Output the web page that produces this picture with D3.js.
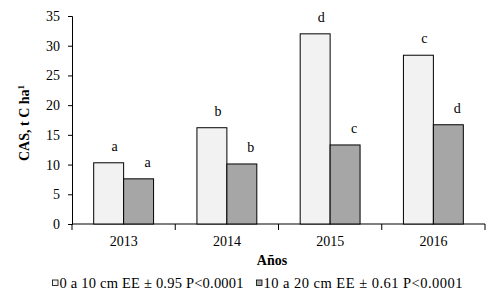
<!DOCTYPE html>
<html>
<head>
<meta charset="utf-8">
<script src="https://cdn.jsdelivr.net/npm/d3@7"></script>
<style>
	body { margin: 0; background: #fff; }
	text { font-family: "Liberation Serif", "Times New Roman", serif; fill: #000; }
</style>
</head>
<body>
<div id="chart"></div>
<script>
// data
var years = ["2013", "2014", "2015", "2016"];
var capa1 = [10.3, 16.2, 32.0, 28.4];   // 0 a 10 cm
var capa2 = [7.6, 10.1, 13.3, 16.7];    // 10 a 20 cm
var letras1 = ["a", "b", "d", "c"];
var letras2 = ["a", "b", "c", "d"];
var series = ["0 a 10 cm EE \u00b1 0.95 P<0.0001", "10 a 20 cm EE \u00b1 0.61 P<0.0001"];
var yTicks = [0, 5, 10, 15, 20, 25, 30, 35];

function init(){
	var w = 495;
	var h = 301;
	var left = 72, right = 485, top = 16, bottom = 224;
	var colors = ["#f2f2f2", "#a6a6a6"];

	var svg = d3.select("#chart")
				.append("svg")
				.attr("width", w)
				.attr("height", h);

	var x = d3.scaleBand()
				.domain(years)
				.range([left, right])
				.paddingInner(0.42)
				.paddingOuter(0.21);

	var xs = d3.scaleBand()
				.domain([0, 1])
				.range([0, x.bandwidth()]);

	var y = d3.scaleLinear()
				.domain([0, 35])
				.range([bottom, top]);

	//y axis
	var yAxis = svg.append("g")
				.attr("transform", "translate(" + left + ",0)")
				.call(d3.axisLeft(y).tickValues(yTicks).tickSize(4).tickPadding(8));
	yAxis.selectAll("text").style("font-size", "14px");

	//x axis: labels only, ticks drawn between the years
	var xAxis = svg.append("g")
				.attr("transform", "translate(0," + bottom + ")")
				.call(d3.axisBottom(x).tickSize(0).tickPadding(12));
	xAxis.selectAll("text").style("font-size", "14px");
	xAxis.select(".domain").attr("d", "M" + left + ",0H" + right);

	var bounds = years.map(function(d){ return x(d) - x.step() * x.paddingInner() / 2; });
	bounds.push(right);
	bounds[0] = left;
	svg.selectAll("line.sep")
		.data(bounds)
		.enter()
		.append("line")
		.attr("class", "sep")
		.attr("x1", function(d){ return d; })
		.attr("x2", function(d){ return d; })
		.attr("y1", bottom)
		.attr("y2", bottom + 6)
		.attr("stroke", "#000");

	svg.selectAll(".domain, .tick line").attr("stroke", "#000");

	//bars
	var rows = [];
	for (var i = 0; i < years.length; i++) {
		rows.push({year: years[i], s: 0, v: capa1[i], l: letras1[i]});
		rows.push({year: years[i], s: 1, v: capa2[i], l: letras2[i]});
	}

	svg.selectAll("rect.bar")
		.data(rows)
		.enter()
		.append("rect")
		.attr("class", "bar")
		.attr("x", function(d){ return x(d.year) + xs(d.s); })
		.attr("y", function(d){ return y(d.v); })
		.attr("width", xs.bandwidth())
		.attr("height", function(d){ return y(0) - y(d.v); })
		.style("fill", function(d){ return colors[d.s]; })
		.style("stroke", "#000")
		.style("stroke-width", 1);

	//letters over the bars
	svg.selectAll("text.letra")
		.data(rows)
		.enter()
		.append("text")
		.attr("class", "letra")
		.attr("x", function(d){ return x(d.year) + xs(d.s) + xs.bandwidth() / 2 + (d.s ? 9 : 6); })
		.attr("y", function(d){ return y(d.v) - 12; })
		.attr("text-anchor", "middle")
		.style("font-size", "14px")
		.text(function(d){ return d.l; });

	//axis titles
	svg.append("text")
		.attr("x", 272)
		.attr("y", 265)
		.attr("text-anchor", "middle")
		.style("font-size", "14px")
		.style("font-weight", "bold")
		.text("Años");

	var yt = svg.append("text")
		.attr("transform", "translate(29," + ((top + bottom) / 2 + 3) + ") rotate(-90)")
		.attr("text-anchor", "middle")
		.style("font-size", "14px")
		.style("font-weight", "bold");
	yt.append("tspan").text("CAS, t C ha");
	yt.append("tspan").attr("dy", -5).style("font-size", "9px").text("1");

	//legend
	var legX = [52, 256];
	var legLen = [184, 199];
	var leg = svg.selectAll("g.leg")
		.data(series)
		.enter()
		.append("g")
		.attr("class", "leg")
		.attr("transform", function(d, i){ return "translate(" + legX[i] + ",283)"; });
	leg.append("rect")
		.attr("x", 0.5)
		.attr("y", -3)
		.attr("width", 5.5)
		.attr("height", 5.5)
		.style("fill", function(d, i){ return colors[i]; })
		.style("stroke", "#000")
		.style("stroke-width", 0.8);
	leg.append("text")
		.attr("x", 7.5)
		.attr("y", 4.5)
		.attr("textLength", function(d, i){ return legLen[i]; })
		.attr("lengthAdjust", "spacing")
		.style("font-size", "14.5px")
		.text(function(d){ return d; });
}

window.onload = init;
</script>
</body>
</html>
